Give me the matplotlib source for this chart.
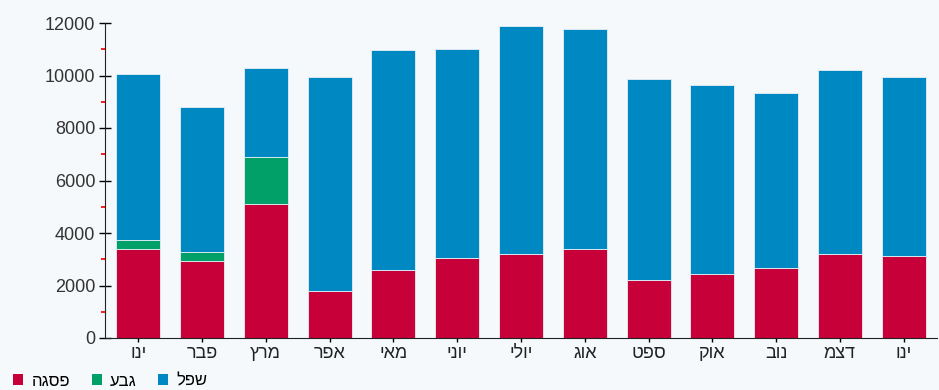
import matplotlib
matplotlib.use('Agg')
import matplotlib.pyplot as plt
import numpy as np
from matplotlib.ticker import MultipleLocator
from matplotlib.patches import Patch

# month labels (logical order, Hebrew)
months = ['ינו', 'פבר', 'מרץ', 'אפר', 'מאי', 'יוני', 'יולי', 'אוג', 'ספט', 'אוק', 'נוב', 'דצמ', 'ינו']

# stacked values, bottom to top
peak = [3390, 2930, 5100, 1790, 2590, 3050, 3200, 3390, 2210, 2440, 2670, 3200, 3120]     # פסגה
shoulder = [340, 350, 1800, 0, 0, 0, 0, 0, 0, 0, 0, 0, 0]                                   # גבע
low = [6330, 5520, 3390, 8150, 8380, 7960, 8690, 8380, 7660, 7200, 6660, 7010, 6820]         # שפל

series_names = ['פסגה', 'גבע', 'שפל']
colors = ['#c70039', '#00a068', '#0088c2']

plt.rcParams['font.family'] = ['Liberation Sans', 'DejaVu Sans']

def rtl(s):
    # matplotlib has no bidi, so flip Hebrew for display
    return s[::-1]

fig = plt.figure(figsize=(9.39, 3.90), dpi=100, facecolor='#f6f9fb')
ax = fig.add_axes([105/939, 52/390, 832/939, 315/390])
ax.set_facecolor('none')

x = np.arange(len(months))
w = 0.69
peak = np.array(peak)
shoulder = np.array(shoulder)
low = np.array(low)
edge = dict(edgecolor='#e6eef4', linewidth=0.6)
ax.bar(x, peak, w, color=colors[0], zorder=2, **edge)
ax.bar(x, shoulder, w, bottom=peak, color=colors[1], zorder=2, **edge)
ax.bar(x, low, w, bottom=peak + shoulder, color=colors[2], zorder=2, **edge)

ax.set_xlim(-0.52, 12.52)
ax.set_ylim(0, 12000)
ax.set_xticks(x)
ax.set_xticklabels([rtl(m) for m in months], fontsize=13, color='#222222')
ax.yaxis.set_major_locator(MultipleLocator(2000))
ax.yaxis.set_minor_locator(MultipleLocator(1000))
ax.tick_params(axis='y', which='major', direction='inout', length=8, width=1,
               labelsize=13, labelcolor='#333333', pad=3)
ax.tick_params(axis='y', which='minor', direction='out', length=3, width=1.4, color='#ff1a1a')
ax.tick_params(axis='x', direction='out', length=3, width=1, pad=2)

for s in ['top', 'right']:
    ax.spines[s].set_visible(False)
ax.spines['left'].set_color('#222222')
ax.spines['bottom'].set_color('#222222')

handles = [Patch(facecolor=c, edgecolor='none') for c in colors]
fig.legend(handles, [rtl(n) for n in series_names], loc='lower left',
           bbox_to_anchor=(-0.002, -0.035), ncol=3, frameon=False, fontsize=12,
           handlelength=0.6, handleheight=0.6, handletextpad=0.5, columnspacing=1.3)

fig.savefig('out.png', dpi=100, facecolor=fig.get_facecolor())
